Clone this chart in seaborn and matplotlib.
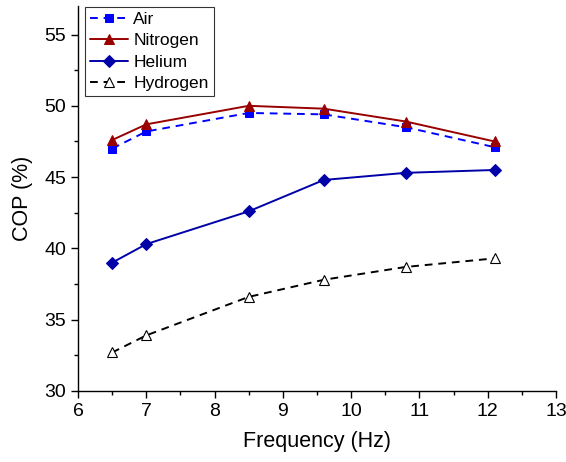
import numpy as np
import pandas as pd
import matplotlib
matplotlib.use("Agg")
import matplotlib.pyplot as plt
from matplotlib.ticker import MultipleLocator
import seaborn as sns

# COP vs frequency for four working gases
freq = [6.5, 7.0, 8.5, 9.6, 10.8, 12.1]
air = [47.0, 48.2, 49.5, 49.4, 48.5, 47.1]
nitrogen = [47.6, 48.7, 50.0, 49.8, 48.9, 47.5]
helium = [39.0, 40.3, 42.6, 44.8, 45.3, 45.5]
hydrogen = [32.7, 33.9, 36.6, 37.8, 38.7, 39.3]

sns.set_style("ticks")
plt.rcParams['font.family'] = ['Liberation Sans', 'DejaVu Sans']
plt.rcParams['text.color'] = 'black'
plt.rcParams['axes.labelcolor'] = 'black'
plt.rcParams['xtick.direction'] = 'out'
plt.rcParams['ytick.direction'] = 'out'

fig = plt.figure(figsize=(5.66, 4.62), dpi=100)
ax = fig.add_axes([0.1378, 0.1537, 0.8445, 0.8333])

sns.lineplot(x=freq, y=air, ax=ax, color='#0000FF', marker='s', markersize=6,
             markeredgecolor='#0000FF', linewidth=1.4, dashes=False,
             linestyle=(0, (4, 3)), label='Air')
sns.lineplot(x=freq, y=nitrogen, ax=ax, color='#990000', marker='^', markersize=7.5,
             markeredgecolor='#990000', linewidth=1.4, label='Nitrogen')
sns.lineplot(x=freq, y=helium, ax=ax, color='#0000A8', marker='D', markersize=6.5,
             markeredgecolor='#0000A8', linewidth=1.4, label='Helium')
sns.lineplot(x=freq, y=hydrogen, ax=ax, color='black', marker='^', markersize=7.5,
             markerfacecolor='white', markeredgecolor='black', markeredgewidth=0.8,
             linewidth=1.4, linestyle=(0, (4, 3)), label='Hydrogen')

ax.set_xlim(6, 13)
ax.set_ylim(30, 57)
ax.xaxis.set_major_locator(MultipleLocator(1))
ax.xaxis.set_minor_locator(MultipleLocator(0.5))
ax.yaxis.set_major_locator(MultipleLocator(5))
ax.yaxis.set_minor_locator(MultipleLocator(2.5))
ax.tick_params(which='major', length=5, width=1, labelsize=14, colors='black')
ax.tick_params(which='minor', length=3, width=1, colors='black')
ax.set_xlabel('Frequency (Hz)', fontsize=15.5, labelpad=8)
ax.set_ylabel('COP (%)', fontsize=15.5, labelpad=8)
sns.despine(ax=ax)
for s in ['left', 'bottom']:
    ax.spines[s].set_color('black')
    ax.spines[s].set_linewidth(1)

leg = ax.legend(loc='upper left', bbox_to_anchor=(0.014, 0.998), fontsize=12.5,
                frameon=True, fancybox=False, handlelength=2.2,
                handletextpad=0.3, borderpad=0.3, labelspacing=0.35,
                borderaxespad=0)
leg.get_frame().set_edgecolor('black')
leg.get_frame().set_linewidth(0.8)

fig.savefig("out.png", dpi=100)
